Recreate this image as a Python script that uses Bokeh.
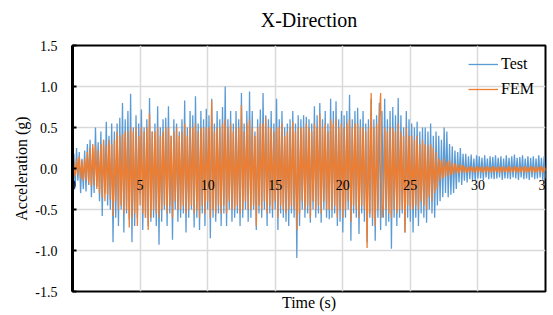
from bokeh.plotting import figure
from bokeh.models import Range1d, FixedTicker, Legend, LegendItem, NumeralTickFormatter, LinearAxis, Title
from bokeh.embed import file_html
from bokeh.resources import INLINE

# ---------------- data ----------------
dt = 0.1  # sampling step of the listed values (s)

test_rows = [
    [0.02, 0.18, -0.22, 0.25, -0.15, 0.2, -0.3, 0.12, -0.25, 0.22],
    [-0.28, 0.3, -0.2, 0.35, -0.35, 0.25, -0.3, 0.5, -0.22, 0.32],
    [-0.4, 0.45, -0.58, 0.35, -0.3, 0.57, -0.45, 0.4, -0.5, 0.55],
    [-0.9, 0.45, -0.6, 0.55, -0.7, 0.62, -0.5, 0.8, -0.78, 0.6],
    [-0.55, 0.7, -0.62, 0.91, -0.9, 0.5, -0.7, 0.65, -0.6, 0.55],
    [-0.3, 0.72, -0.75, 0.5, -0.6, 0.6, -0.7, 0.86, -0.65, 0.45],
    [-0.6, 0.55, -0.7, 0.76, -0.93, 0.5, -0.65, 0.6, -0.5, 0.62],
    [-0.7, 0.76, -0.55, 0.4, -0.87, 0.6, -0.5, 0.55, -0.65, 0.45],
    [-0.6, 0.6, -0.55, 0.83, -0.78, 0.5, -0.6, 0.7, -0.5, 0.65],
    [-0.72, 0.88, -0.6, 0.55, -0.75, 0.7, -0.55, 0.6, -0.7, 0.73],
    [-0.5, 0.65, -0.85, 0.85, -0.6, 0.55, -0.65, 0.7, -0.55, 0.6],
    [-0.7, 0.75, -0.55, 1.0, -0.7, 0.6, -0.5, 0.7, -0.65, 0.55],
    [-0.6, 0.7, -0.55, 0.6, -0.7, 0.92, -0.6, 0.55, -0.5, 0.7],
    [-0.65, 0.94, -0.6, 0.7, -0.5, 0.45, -0.75, 0.6, -0.55, 0.72],
    [-0.6, 0.92, -0.5, 0.65, -0.7, 0.6, -0.55, 0.7, -0.6, 0.55],
    [-0.5, 0.85, -0.75, 0.6, -0.55, 0.7, -0.6, 0.5, -0.65, 0.55],
    [-0.7, 0.6, -0.55, 0.7, -0.6, 0.55, -1.09, 0.65, -0.7, 0.6],
    [-0.5, 0.65, -0.6, 0.63, -0.55, 0.6, -0.66, 0.55, -0.5, 0.76],
    [-0.6, 0.65, -0.55, 0.8, -0.66, 0.6, -0.5, 0.7, -0.6, 0.55],
    [-0.62, 0.85, -0.6, 0.7, -0.55, 0.82, -0.7, 0.6, -0.65, 0.7],
    [-0.78, 0.65, -0.6, 0.7, -0.5, 0.9, -0.88, 0.6, -0.55, 0.7],
    [-0.6, 0.74, -0.8, 0.6, -0.55, 0.7, -0.65, 0.55, -0.9, 0.6],
    [-0.6, 0.85, -0.7, 0.6, -0.88, 0.65, -0.6, 0.8, -0.75, 0.7],
    [-0.6, 0.85, -0.7, 0.6, -0.65, 0.7, -0.98, 0.75, -0.6, 0.65],
    [-0.7, 0.86, -0.6, 0.65, -0.55, 0.5, -0.78, 0.7, -0.6, 0.6],
    [-0.65, 0.55, -0.78, 0.5, -0.6, 0.57, -0.7, 0.45, -0.55, 0.5],
    [-0.6, 0.5, -0.66, 0.45, -0.5, 0.55, -0.55, 0.4, -0.6, 0.45],
    [-0.45, 0.4, -0.4, 0.35, -0.35, 0.5, -0.3, 0.45, -0.35, 0.3],
    [-0.32, 0.27, -0.3, 0.22, -0.25, 0.2, -0.17, 0.25, -0.2, 0.18],
    [-0.15, 0.18, -0.17, 0.15, -0.13, 0.17, -0.14, 0.12, -0.15, 0.16],
    [-0.12, 0.15, -0.12, 0.13, -0.14, 0.16, -0.11, 0.12, -0.13, 0.15],
    [-0.12, 0.14, -0.13, 0.16, -0.12, 0.13, -0.11, 0.15, -0.14, 0.12],
    [-0.12, 0.16, -0.12, 0.13, -0.13, 0.15, -0.11, 0.17, -0.12, 0.13],
    [-0.14, 0.14, -0.11, 0.16, -0.13, 0.12, -0.12, 0.15, -0.14, 0.13],
    [-0.11, 0.15, -0.13, 0.12, -0.12, 0.16, -0.11, 0.13, -0.14, 0.15],
    [-0.12],
]

fem_rows = [
    [0.0, 0.08, -0.1, 0.12, -0.08, 0.15, -0.12, 0.1, -0.15, 0.12],
    [-0.15, 0.2, -0.18, 0.25, -0.22, 0.3, -0.2, 0.28, -0.25, 0.22],
    [-0.3, 0.3, -0.35, 0.35, -0.4, 0.28, -0.32, 0.35, -0.38, 0.3],
    [-0.58, 0.35, -0.4, 0.45, -0.5, 0.4, -0.45, 0.42, -0.55, 0.45],
    [-0.5, 0.45, -0.72, 0.5, -0.6, 0.45, -0.55, 0.5, -0.7, 0.4],
    [-0.45, 0.5, -0.55, 0.45, -0.6, 0.5, -0.75, 0.67, -0.6, 0.45],
    [-0.5, 0.45, -0.55, 0.5, -0.6, 0.4, -0.5, 0.45, -0.45, 0.5],
    [-0.55, 0.5, -0.45, 0.4, -0.6, 0.45, -0.4, 0.5, -0.5, 0.4],
    [-0.5, 0.45, -0.45, 0.55, -0.55, 0.4, -0.5, 0.5, -0.45, 0.5],
    [-0.55, 0.55, -0.5, 0.45, -0.6, 0.5, -0.45, 0.5, -0.55, 0.5],
    [-0.4, 0.5, -0.6, 0.83, -0.5, 0.45, -0.55, 0.5, -0.45, 0.5],
    [-0.55, 0.55, -0.45, 0.6, -0.55, 0.5, -0.4, 0.55, -0.5, 0.45],
    [-0.5, 0.5, -0.45, 0.5, -0.55, 0.77, -0.5, 0.45, -0.4, 0.55],
    [-0.5, 0.6, -0.5, 0.5, -0.45, 0.4, -0.7, 0.5, -0.45, 0.55],
    [-0.5, 0.55, -0.4, 0.62, -0.55, 0.5, -0.45, 0.5, -0.5, 0.45],
    [-0.4, 0.5, -0.6, 0.5, -0.45, 0.55, -0.5, 0.4, -0.55, 0.45],
    [-0.5, 0.5, -0.45, 0.57, -0.5, 0.45, -0.75, 0.5, -0.55, 0.5],
    [-0.4, 0.5, -0.5, 0.55, -0.45, 0.5, -0.6, 0.45, -0.4, 0.55],
    [-0.5, 0.5, -0.45, 0.67, -0.55, 0.5, -0.4, 0.55, -0.5, 0.45],
    [-0.5, 0.6, -0.5, 0.55, -0.45, 0.6, -0.6, 0.5, -0.5, 0.55],
    [-0.6, 0.5, -0.5, 0.55, -0.4, 0.6, -0.65, 0.5, -0.45, 0.55],
    [-0.5, 0.55, -0.6, 0.5, -0.45, 0.5, -0.5, 0.45, -0.97, 0.5],
    [-0.55, 0.92, -0.6, 0.5, -0.7, 0.55, -0.5, 0.6, 0.92, -0.6],
    [-0.45, 0.5, -0.5, 0.45, -0.55, 0.5, -0.6, 0.5, -0.5, 0.45],
    [-0.55, 0.55, -0.5, 0.45, -0.5, 0.4, -0.78, 0.5, -0.45, 0.4],
    [-0.5, 0.4, -0.5, 0.35, -0.45, 0.4, -0.5, 0.3, -0.4, 0.35],
    [-0.45, 0.3, -0.5, 0.28, -0.35, 0.3, -0.4, 0.25, -0.3, 0.2],
    [-0.25, 0.12, -0.15, 0.1, -0.12, 0.12, -0.1, 0.08, -0.1, 0.1],
    [-0.08, 0.07, -0.07, 0.06, -0.06, 0.05, -0.06, 0.05, -0.05, 0.04],
    [-0.05, 0.03, -0.05, 0.02, -0.05, 0.03, -0.04, 0.02, -0.05, 0.03],
    [-0.05, 0.02, -0.04, 0.03, -0.05, 0.02, -0.05, 0.03, -0.04, 0.02],
    [-0.05, 0.03, -0.05, 0.02, -0.04, 0.03, -0.05, 0.02, -0.05, 0.03],
    [-0.04, 0.02, -0.05, 0.03, -0.05, 0.02, -0.04, 0.03, -0.05, 0.02],
    [-0.05, 0.03, -0.04, 0.02, -0.05, 0.03, -0.05, 0.02, -0.04, 0.03],
    [-0.05, 0.02, -0.05, 0.03, -0.04, 0.02, -0.05, 0.03, -0.05, 0.02],
    [-0.03],
]

x_ticks = [0, 5, 10, 15, 20, 25, 30, 35]
y_ticks = [-1.5, -1.0, -0.5, 0.0, 0.5, 1.0, 1.5]
series_names = ["Test", "FEM"]

test_acc = [v for row in test_rows for v in row]
fem_acc = [v for row in fem_rows for v in row]
time_test = [round(i * dt, 2) for i in range(len(test_acc))]
time_fem = [round(i * dt, 2) for i in range(len(fem_acc))]

# ---------------- figure ----------------
SERIF = "Liberation Serif"
BLUE = "#5B9BD5"
ORANGE = "#ED7D31"

p = figure(width=553, height=315, output_backend="svg", toolbar_location=None,
           x_range=Range1d(0, 35), y_range=Range1d(-1.5, 1.5),
           min_border_left=72, min_border_right=8, min_border_top=0, min_border_bottom=24,
           background_fill_color="white", border_fill_color="white")

p.title.text = "X-Direction"
p.title.text_font = SERIF
p.title.text_font_size = "20px"
p.title.text_font_style = "normal"
p.title.text_color = "black"
p.title.align = "center"
p.title.standoff = 12

p.outline_line_color = "black"
p.outline_line_width = 2
p.outline_line_alpha = 1

# default bottom axis not used (the frame outline gives the bottom line)
p.xaxis[0].visible = False

# invisible spacer axis between the title and the frame (ticks hidden, labels blank)
gap = LinearAxis(ticker=FixedTicker(ticks=x_ticks),
                 major_label_overrides={t: "" for t in x_ticks})
gap.axis_line_color = None
gap.major_tick_line_color = None
gap.minor_tick_line_color = None
gap.major_tick_in = 0
gap.major_tick_out = 9
gap.minor_tick_in = 0
gap.minor_tick_out = 0
gap.major_label_standoff = 0
p.add_layout(gap, "above")

# tick labels drawn just under y = 0 (Excel style axis crossing)
xz = LinearAxis(fixed_location=-0.185, ticker=FixedTicker(ticks=x_ticks))
xz.axis_line_color = None
xz.major_tick_line_color = None
xz.minor_tick_line_color = None
xz.major_tick_in = 0
xz.major_tick_out = 0
xz.minor_tick_in = 0
xz.minor_tick_out = 0
xz.major_label_text_font = SERIF
xz.major_label_text_font_size = "14px"
xz.major_label_text_color = "black"
xz.major_label_standoff = -6
p.add_layout(xz, "above")

# axis title under the frame
p.add_layout(Title(text="Time (s)", align="center", text_font=SERIF,
                   text_font_size="16px", text_font_style="normal",
                   text_color="black", standoff=0), "below")

ya = p.yaxis[0]
ya.ticker = FixedTicker(ticks=y_ticks)
ya.formatter = NumeralTickFormatter(format="0.0")
ya.axis_line_color = "black"
ya.axis_line_width = 3
ya.major_tick_in = 4
ya.major_tick_out = 0
ya.major_tick_line_width = 2
ya.major_tick_line_color = "black"
ya.minor_tick_line_color = None
ya.minor_tick_out = 0
ya.major_label_text_font = SERIF
ya.major_label_text_font_size = "14px"
ya.major_label_text_color = "black"
ya.major_label_standoff = 15
ya.axis_label = "Acceleration (g)"
ya.axis_label_text_font = SERIF
ya.axis_label_text_font_size = "16px"
ya.axis_label_text_font_style = "normal"
ya.axis_label_text_color = "black"
ya.axis_label_standoff = 2

p.xgrid.ticker = FixedTicker(ticks=x_ticks)
p.ygrid.ticker = FixedTicker(ticks=y_ticks)
for g in (p.xgrid[0], p.ygrid[0]):
    g.grid_line_color = "#d9d9d9"
    g.grid_line_width = 1.5

r_test = p.line(time_test, test_acc, line_color=BLUE, line_width=1.3)
r_fem = p.line(time_fem, fem_acc, line_color=ORANGE, line_width=1.3)

legend = Legend(items=[LegendItem(label=series_names[0], renderers=[r_test]),
                       LegendItem(label=series_names[1], renderers=[r_fem])],
                location=(396, 192))
legend.label_text_font = SERIF
legend.label_text_font_size = "16px"
legend.label_text_color = "black"
legend.background_fill_alpha = 0
legend.border_line_color = None
legend.glyph_width = 30
legend.glyph_height = 20
legend.label_height = 20
legend.label_standoff = 3
legend.spacing = 5
legend.padding = 0
legend.margin = 0
p.add_layout(legend)

open("out.html", "w").write(file_html(p, INLINE))
